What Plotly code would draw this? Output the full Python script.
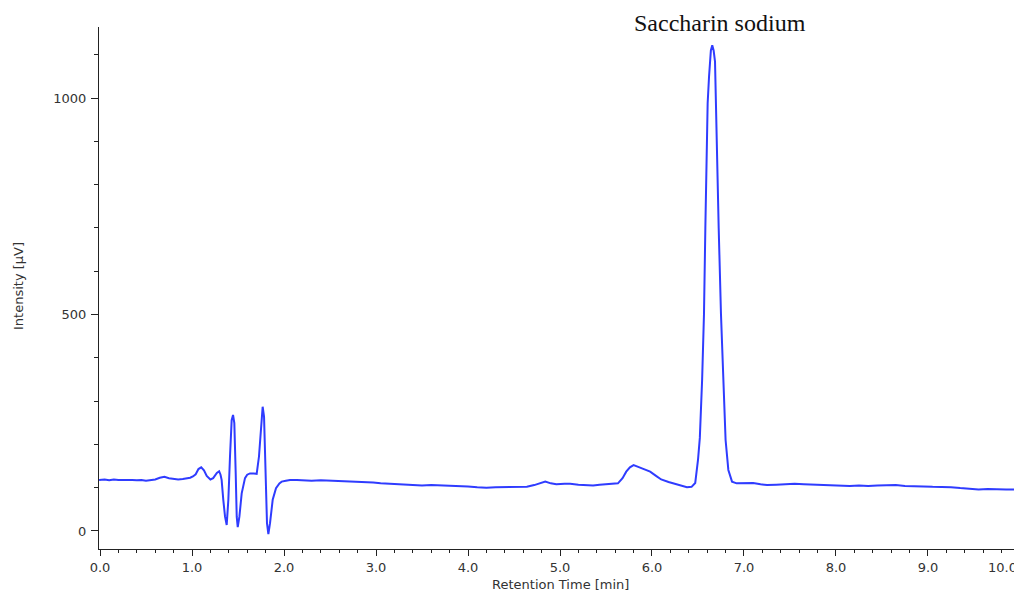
import plotly.graph_objects as go

# Retention time [min] and intensity [µV]
time_min = [
    -0.01, 0.05, 0.10, 0.15, 0.20, 0.25, 0.30, 0.35, 0.40, 0.45, 0.50, 0.55, 0.60, 0.65, 0.70,
    0.75, 0.80, 0.85, 0.90, 0.94, 0.98, 1.01, 1.04, 1.07, 1.10, 1.13, 1.16, 1.20, 1.23, 1.27,
    1.295, 1.31, 1.322, 1.34, 1.359, 1.377, 1.395, 1.413, 1.431, 1.446, 1.46, 1.475, 1.486,
    1.497, 1.515, 1.54, 1.576, 1.60, 1.63, 1.67, 1.703, 1.728, 1.75, 1.768, 1.783, 1.80,
    1.815, 1.83, 1.848, 1.877, 1.913, 1.95, 1.975, 2.02, 2.065, 2.14, 2.20, 2.30, 2.40, 2.50,
    2.57, 2.65, 2.75, 2.85, 2.97, 3.05, 3.15, 3.25, 3.40, 3.50, 3.60, 3.77, 3.90, 4.00, 4.10,
    4.20, 4.30, 4.40, 4.50, 4.64, 4.72, 4.80, 4.84, 4.90, 4.96, 5.05, 5.11, 5.20, 5.30, 5.36,
    5.43, 5.54, 5.63, 5.68, 5.72, 5.76, 5.80, 5.85, 5.92, 5.98, 6.04, 6.10, 6.18, 6.27, 6.33,
    6.38, 6.43, 6.47, 6.50, 6.52, 6.545, 6.565, 6.58, 6.594, 6.605, 6.62, 6.64, 6.655, 6.67,
    6.685, 6.69, 6.70, 6.71, 6.725, 6.75, 6.78, 6.80, 6.83, 6.87, 6.92, 6.96, 7.03, 7.10,
    7.18, 7.25, 7.35, 7.45, 7.55, 7.65, 7.75, 7.85, 7.95, 8.05, 8.15, 8.25, 8.35, 8.45, 8.55,
    8.65, 8.75, 8.85, 8.95, 9.05, 9.15, 9.25, 9.35, 9.45, 9.55, 9.65, 9.75, 9.85, 9.94,
]
intensity_uv = [
    118, 119, 117, 119, 118, 118, 119, 118, 117, 118, 116, 118, 119, 123, 125,
    122, 120, 119, 120, 121, 123, 126, 131, 143, 147, 140, 127, 119, 122, 134,
    138, 130, 118, 72, 33, 14, 72, 172, 256, 268, 249, 133, 33,
    9, 33, 87, 122, 130, 133, 133, 132, 172, 249, 287, 264, 133,
    18, -7, 18, 72, 99, 110, 114, 116, 118, 118, 117, 116, 117, 116,
    117, 115, 114, 114, 112, 110, 109, 108, 105, 105, 106, 105, 103, 103, 101,
    100, 101, 101, 102, 102, 106, 112, 114, 110, 108, 109, 109, 107, 105, 105,
    107, 108, 110, 122, 137, 147, 152, 148, 143, 137, 128, 119, 113, 108, 104,
    101, 102, 111, 164, 215, 350, 500, 700, 880, 988, 1049, 1110, 1122, 1110,
    1084, 1026, 961, 880, 700, 500, 300, 210, 141, 114, 110, 110, 111, 111,
    108, 106, 107, 108, 109, 108, 107, 106, 105, 105, 104, 105, 104, 105, 105,
    106, 104, 104, 103, 102, 102, 101, 99, 98, 96, 97, 96, 96, 96,
]

peak_label = "Saccharin sodium"
x_title = "Retention Time [min]"
y_title = "Intensity [µV]"
last_tick_label = "10.0"

# The figure fills the 1014x592 window; the page margin is removed after plotting.
W, H = 1014, 592
L, R, T, B = 99, 0, 27, 592 - 549
plot_w = W - L - R
plot_h = H - T - B


def px_x(page_x):
    return (page_x - L) / plot_w


def px_y(page_y):
    return 1 - (page_y - T) / plot_h


tick_font = dict(family="DejaVu Sans", size=13, color="#333333")

fig = go.Figure()
fig.add_trace(go.Scatter(
    x=time_min, y=intensity_uv, mode="lines",
    line=dict(color="#2f3cff", width=2),
    showlegend=False, hoverinfo="skip",
))

fig.update_layout(
    width=W, height=H,
    margin=dict(l=L, r=R, t=T, b=B, pad=0),
    paper_bgcolor="white", plot_bgcolor="white",
    hovermode=False,
    xaxis=dict(
        range=[-0.011, 9.935], dtick=1, tick0=0, tickformat=".1f",
        showgrid=False, zeroline=False, showline=True, linecolor="#222222", linewidth=1,
        ticks="outside", ticklen=6, tickcolor="#222222", tickwidth=1,
        minor=dict(dtick=0.2, tick0=0, ticks="outside", ticklen=3, tickcolor="#222222", tickwidth=1),
        tickfont=tick_font,
    ),
    yaxis=dict(
        range=[-41.6, 1164], tickvals=[0, 500, 1000],
        showgrid=False, zeroline=False, showline=True, linecolor="#222222", linewidth=1,
        ticks="outside", ticklen=7, tickcolor="#222222", tickwidth=1,
        minor=dict(dtick=100, tick0=0, ticks="outside", ticklen=4, tickcolor="#222222", tickwidth=1),
        tickfont=tick_font, ticklabelstandoff=2,
    ),
    annotations=[
        dict(text=peak_label, xref="paper", yref="paper",
             x=px_x(720), y=px_y(23),
             xanchor="center", yanchor="middle", showarrow=False,
             font=dict(family="Liberation Serif", size=24, color="#111111")),
        dict(text=x_title, xref="paper", yref="paper",
             x=px_x(560), y=px_y(584),
             xanchor="center", yanchor="middle", showarrow=False,
             font=tick_font),
        dict(text=y_title, xref="paper", yref="paper",
             x=px_x(18), y=px_y(286),
             xanchor="center", yanchor="middle", showarrow=False, textangle=-90,
             font=tick_font),
        dict(text=last_tick_label, xref="paper", yref="paper",
             x=px_x(987), y=px_y(567),
             xanchor="left", yanchor="middle", showarrow=False,
             font=tick_font, borderpad=0),
    ],
)

fig.write_html(
    "out.html",
    config={"displayModeBar": False, "staticPlot": True},
    post_script="document.body.style.margin='0';document.documentElement.style.overflow='hidden';",
)
